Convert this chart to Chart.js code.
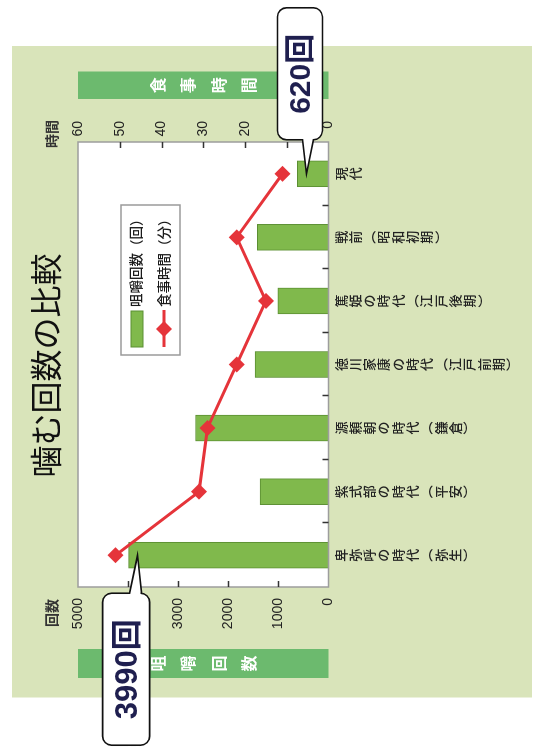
<!DOCTYPE html>
<html>
<head>
<meta charset="utf-8">
<script src="https://cdn.jsdelivr.net/npm/chart.js@4/dist/chart.umd.min.js"></script>
<style>
html,body{margin:0;padding:0;background:#fff;overflow:hidden;width:534px;height:749px;}
#wrap{position:relative;width:534px;height:749px;overflow:hidden;}
#c{position:absolute;left:0;top:0;transform-origin:0 0;transform:translate(0,749px) rotate(-90deg);}
</style>
</head>
<body>
<div id="wrap"><canvas id="c" width="749" height="534"></canvas></div>
<script>
// ---- data ----
const title = '噛む回数の比較';
const categories = ['卑弥呼の時代(弥生)', '紫式部の時代(平安)', '源頼朝の時代(鎌倉)', '徳川家康の時代(江戸前期)', '篤姫の時代(江戸後期)', '戦前(昭和初期)', '現代'];
const chewCounts = [3990, 1366, 2654, 1465, 1012, 1420, 620];
const mealMinutes = [51, 31, 29, 22, 15, 22, 11];
const countTicks = [0, 1000, 2000, 3000, 4000, 5000];
const minuteTicks = [0, 10, 20, 30, 40, 50, 60];
const seriesNames = ['咀嚼回数（回）', '食事時間（分）'];
const countAxisTitle = '咀嚼回数';
const timeAxisTitle = '食事時間';
const countUnit = '回数';
const timeUnit = '時間';
const calloutIndexes = [0, 6];

const CJK = "'Noto Sans CJK JP', 'Liberation Sans', sans-serif";
const NUM = "'Liberation Sans', 'Noto Sans CJK JP', sans-serif";
const BAR_FILL = '#80b94c', BAR_EDGE = '#5b8f32';
const LINE_RED = '#e5343a';
const PANEL = '#d9e4ba', BANNER = '#6cba6e';

function toVertical(s) {
  return Array.from(s).map(ch => ch === '(' ? '︵' : ch === ')' ? '︶' : ch);
}

function calloutPath(ctx, x, y, w, h, r, side, b1, b2, tx, ty) {
  ctx.beginPath();
  ctx.moveTo(x + r, y);
  ctx.lineTo(x + w - r, y);
  ctx.arcTo(x + w, y, x + w, y + r, r);
  if (side === 'right') { ctx.lineTo(x + w, b1); ctx.lineTo(tx, ty); ctx.lineTo(x + w, b2); }
  ctx.lineTo(x + w, y + h - r);
  ctx.arcTo(x + w, y + h, x + w - r, y + h, r);
  ctx.lineTo(x + r, y + h);
  ctx.arcTo(x, y + h, x, y + h - r, r);
  if (side === 'left') { ctx.lineTo(x, b2); ctx.lineTo(tx, ty); ctx.lineTo(x, b1); }
  ctx.lineTo(x, y + r);
  ctx.arcTo(x, y, x + r, y, r);
  ctx.closePath();
}

const decor = {
  id: 'decor',
  beforeDraw(chart) {
    const ctx = chart.ctx, ca = chart.chartArea;
    ctx.save();
    ctx.fillStyle = '#ffffff';
    ctx.fillRect(0, 0, chart.width, chart.height);
    ctx.fillStyle = PANEL;
    ctx.fillRect(51.5, 12, 651.5, 520);
    ctx.fillStyle = '#ffffff';
    ctx.fillRect(ca.left, ca.top, ca.right - ca.left, ca.bottom - ca.top);
    // axis title banners (vertical text)
    const mid = (ca.top + ca.bottom) / 2;
    const banners = [
      { x: ca.left - 91, w: 29, text: countAxisTitle },
      { x: ca.right + 43, w: 27.5, text: timeAxisTitle }
    ];
    banners.forEach(b => {
      ctx.fillStyle = BANNER;
      ctx.fillRect(b.x, ca.top, b.w, ca.bottom - ca.top);
      ctx.fillStyle = '#ffffff';
      ctx.font = 'bold 16px ' + CJK;
      ctx.textAlign = 'center';
      ctx.textBaseline = 'middle';
      const chars = Array.from(b.text);
      chars.forEach((ch, k) => {
        ctx.fillText(ch, b.x + b.w / 2, mid + (k - (chars.length - 1) / 2) * 30.5);
      });
    });
    ctx.restore();
  },
  afterDatasetsDraw(chart) {
    const ctx = chart.ctx, ca = chart.chartArea;
    const xs = chart.scales.x, yc = chart.scales.yCount, yt = chart.scales.yTime;
    ctx.save();
    ctx.strokeStyle = '#9d9d9d';
    ctx.lineWidth = 1.5;
    ctx.strokeRect(ca.left, ca.top, ca.right - ca.left, ca.bottom - ca.top);
    ctx.strokeStyle = '#333';
    ctx.lineWidth = 1.5;
    ctx.beginPath();
    countTicks.slice(1, -1).forEach(v => {
      const y = Math.round(yc.getPixelForValue(v)) + 0.5;
      ctx.moveTo(ca.left, y); ctx.lineTo(ca.left + 6, y);
    });
    minuteTicks.slice(1, -1).forEach(v => {
      const y = Math.round(yt.getPixelForValue(v)) + 0.5;
      ctx.moveTo(ca.right - 6, y); ctx.lineTo(ca.right, y);
    });
    for (let i = 1; i < categories.length; i++) {
      const x = Math.round((xs.getPixelForValue(i - 1) + xs.getPixelForValue(i)) / 2) + 0.5;
      ctx.moveTo(x, ca.bottom); ctx.lineTo(x, ca.bottom - 6);
    }
    ctx.stroke();
    ctx.restore();
  },
  afterDraw(chart) {
    const ctx = chart.ctx, ca = chart.chartArea;
    ctx.save();
    // title
    ctx.fillStyle = '#111';
    ctx.font = '32px ' + CJK;
    ctx.textAlign = 'center';
    ctx.textBaseline = 'middle';
    ctx.fillText(title, (ca.left + ca.right) / 2 - 1, 46);
    // unit labels
    ctx.fillStyle = '#333';
    ctx.font = 'bold 14px ' + CJK;
    ctx.textAlign = 'right';
    ctx.fillText(countUnit, ca.left - 12, 52);
    ctx.fillText(timeUnit, ca.right + 22, 52);
    // legend
    const lx = ca.left + 232, ly = ca.top + 43;
    ctx.fillStyle = '#fff';
    ctx.fillRect(lx, ly, 150, 59);
    ctx.strokeStyle = '#9a9a9a';
    ctx.lineWidth = 1.5;
    ctx.strokeRect(lx, ly, 150, 59);
    ctx.fillStyle = BAR_FILL;
    ctx.fillRect(lx + 8, ly + 10, 36, 12);
    ctx.strokeStyle = BAR_EDGE; ctx.lineWidth = 1;
    ctx.strokeRect(lx + 8, ly + 10, 36, 12);
    ctx.strokeStyle = LINE_RED; ctx.lineWidth = 3;
    ctx.beginPath(); ctx.moveTo(lx + 8, ly + 43); ctx.lineTo(lx + 45, ly + 43); ctx.stroke();
    ctx.fillStyle = LINE_RED;
    ctx.beginPath();
    const dx = lx + 26, dy = ly + 43, dr = 8;
    ctx.moveTo(dx - dr, dy); ctx.lineTo(dx, dy - dr); ctx.lineTo(dx + dr, dy); ctx.lineTo(dx, dy + dr); ctx.closePath(); ctx.fill();
    ctx.fillStyle = '#1a1a1a';
    ctx.font = '500 13.5px ' + CJK;
    ctx.textAlign = 'left';
    ctx.textBaseline = 'middle';
    ctx.fillText(seriesNames[0], lx + 48, ly + 15);
    ctx.fillText(seriesNames[1], lx + 48, ly + 43);
    // callouts
    const meta = chart.getDatasetMeta(0);
    calloutIndexes.forEach(i => {
      const el = meta.data[i];
      const tx = el.x, ty = el.y + 9;
      let x, y, w, h, side, b1, b2, fs;
      if (i === 0) {
        w = 152; h = 47; x = tx - 38 - w; y = ty - 35; side = 'right'; b1 = ty - 8; b2 = ty + 4; fs = 31;
        if (x < 1.5) { x = 1.5; w = tx - 38 - x; }
      } else {
        w = 132; h = 45; x = tx + 34; y = ty - 29; side = 'left'; b1 = ty - 4; b2 = ty + 7; fs = 30;
      }
      calloutPath(ctx, x, y, w, h, 9, side, b1, b2, tx, ty);
      ctx.fillStyle = '#fff';
      ctx.fill();
      ctx.strokeStyle = '#111';
      ctx.lineWidth = 1.6;
      ctx.stroke();
      ctx.fillStyle = '#1f1f4f';
      ctx.font = 'bold ' + fs + 'px ' + NUM;
      ctx.textAlign = 'center';
      ctx.textBaseline = 'middle';
      ctx.fillText(chewCounts[i] + '回', x + w / 2, y + h / 2 + 2);
    });
    ctx.restore();
  }
};

new Chart(document.getElementById('c'), {
  data: {
    labels: categories,
    datasets: [
      {
        type: 'bar', label: seriesNames[0], data: chewCounts, yAxisID: 'yCount',
        backgroundColor: BAR_FILL, borderColor: BAR_EDGE, borderWidth: 1,
        barThickness: 26, order: 1
      },
      {
        type: 'line', label: seriesNames[1], data: mealMinutes, yAxisID: 'yTime',
        borderColor: LINE_RED, backgroundColor: LINE_RED, borderWidth: 3,
        pointStyle: 'rectRot', pointRadius: 8, pointBorderWidth: 0,
        pointBackgroundColor: LINE_RED, tension: 0, order: 0
      }
    ]
  },
  options: {
    responsive: false,
    animation: false,
    devicePixelRatio: 1,
    layout: { padding: { left: 0, right: 121, top: 78, bottom: 0 } },
    plugins: { legend: { display: false }, tooltip: { enabled: false }, title: { display: false } },
    scales: {
      x: {
        type: 'category', position: 'bottom', offset: true,
        grid: { display: false, drawTicks: false }, border: { display: false },
        ticks: {
          autoSkip: false, maxRotation: 0, minRotation: 0, padding: 5, color: '#222',
          font: { family: CJK, size: 13, weight: '500', lineHeight: 1.1 },
          callback: (v, i) => toVertical(categories[i])
        },
        afterFit: s => { s.height = 205.5; }
      },
      yCount: {
        type: 'linear', position: 'left',
        min: countTicks[0], max: countTicks[countTicks.length - 1],
        grid: { display: false, drawTicks: false }, border: { display: false },
        ticks: { stepSize: countTicks[1] - countTicks[0], padding: 11, color: '#222', font: { family: NUM, size: 14 }, callback: v => String(v) },
        afterFit: s => { s.width = 162; }
      },
      yTime: {
        type: 'linear', position: 'right',
        min: minuteTicks[0], max: minuteTicks[minuteTicks.length - 1],
        grid: { display: false, drawTicks: false }, border: { display: false },
        ticks: { stepSize: minuteTicks[1] - minuteTicks[0], padding: 6, crossAlign: 'far', color: '#222', font: { family: NUM, size: 14 }, callback: v => String(v) },
        afterFit: s => { s.width = 21; }
      }
    }
  },
  plugins: [decor]
});
</script>
</body>
</html>
